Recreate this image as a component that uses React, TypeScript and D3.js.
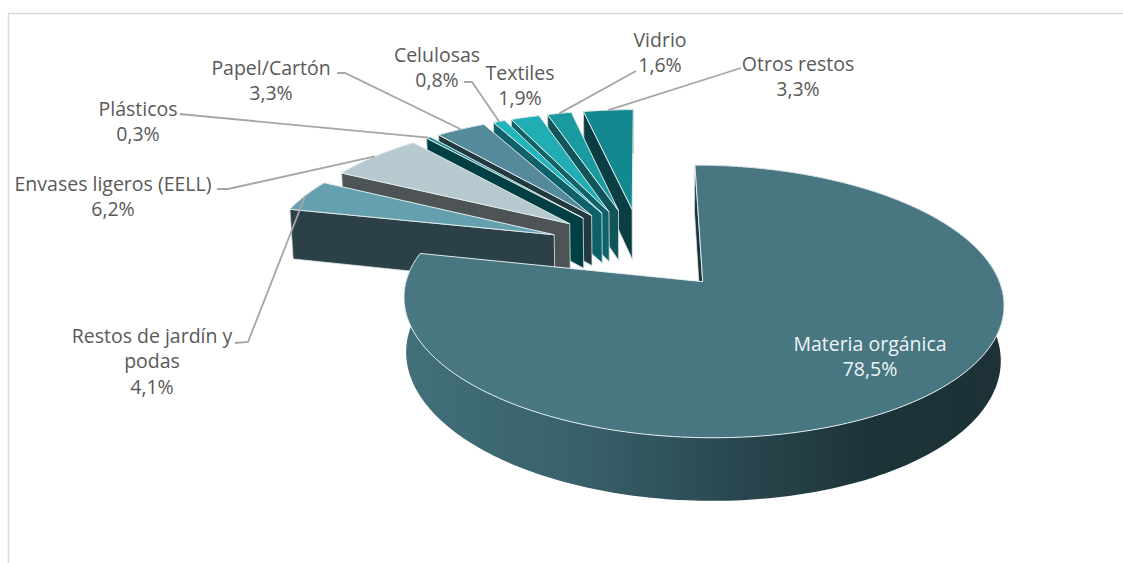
import React from "react";
import * as d3 from "d3";

const categories = ["Materia orgánica", "Restos de jardín y podas", "Envases ligeros (EELL)", "Plásticos", "Papel/Cartón", "Celulosas", "Textiles", "Vidrio", "Otros restos"];
const shares = [78.5, 4.1, 6.2, 0.3, 3.3, 0.8, 1.9, 1.6, 3.3];
const topColors = ["#487782", "#64A0AE", "#B6C9CF", "#1F8D92", "#548A99", "#1FB5BA", "#20ADB3", "#1A9AA1", "#138891"];
const wallColors = ["#1C3338", "#2C4048", "#4E5356", "#003F43", "#22393F", "#0E6168", "#0E6268", "#0F5559", "#0B3E43"];
const labelLines = [["Materia orgánica", "78,5%"], ["Restos de jardín y", "podas", "4,1%"], ["Envases ligeros (EELL)", "6,2%"], ["Plásticos", "0,3%"], ["Papel/Cartón", "3,3%"], ["Celulosas", "0,8%"], ["Textiles", "1,9%"], ["Vidrio", "1,6%"], ["Otros restos", "3,3%"]];
const labelCenters = [[870, 350.5], [152, 342.5], [113, 190.5], [138, 115.5], [271, 74.5], [437, 61.5], [520, 79.5], [660, 46.5], [798, 70.5]];
const leaderStarts: (number[][] | null)[] = [null, [[235, 343], [248, 342]], [[217, 189], [228, 189]], [[180, 114], [190, 115]], [[337, 73], [345, 73]], [[464, 82], [472, 82]], null, [[636, 71]], [[741, 68]]];

const X0 = 641.5, Y0 = 248.5, W = 286, H = 124, P = 0.14, DEPTH = 52, SHRINK = 0.009, EXPLODE = 0.33;

function project(u: number, v: number, z = 0): [number, number] {
  const d = 1 - P * v;
  const x = X0 + (W * u) / d;
  return [X0 + (x - X0) * (1 - SHRINK * z), Y0 + (H * v + DEPTH * z) / d];
}

const pieData = d3.pie<number>().sort(null).startAngle(0).endAngle(2 * Math.PI)(shares);
const outline = d3.line().curve(d3.curveLinearClosed);

export default function App() {
  const slices = pieData.map((s, i) => {
    const mid = (s.startAngle + s.endAngle) / 2;
    const ou = EXPLODE * Math.sin(mid), ov = -EXPLODE * Math.cos(mid);
    const at = (a: number, z = 0) => project(ou + Math.sin(a), ov - Math.cos(a), z);
    const n = Math.max(3, Math.ceil((s.endAngle - s.startAngle) / 0.02));
    const angles = d3.range(n + 1).map((k) => s.startAngle + ((s.endAngle - s.startAngle) * k) / n);
    const apex = project(ou, ov), apexB = project(ou, ov, 1);
    return {
      i,
      top: outline([apex, ...angles.map((a) => at(a))])!,
      arcWall: outline([...angles.map((a) => at(a)), ...angles.slice().reverse().map((a) => at(a, 1))])!,
      edgeWall: outline([at(s.startAngle), apex, apexB, at(s.startAngle, 1)])!,
      tip: at(mid),
    };
  });
  const order = slices.slice().reverse();
  const leader = d3.line();
  return (
    <svg width={1123} height={563} style={{ position: "absolute", left: 0, top: 0, background: "#fff" }} fontFamily="'Open Sans', sans-serif">
      <defs>
        <linearGradient id="mainWall" gradientUnits="userSpaceOnUse" x1={404} x2={1005} y1={0} y2={0}>
          <stop offset="0" stopColor="#41707B" />
          <stop offset="0.3" stopColor="#38606A" />
          <stop offset="0.55" stopColor="#2A474F" />
          <stop offset="0.78" stopColor="#1C3338" />
          <stop offset="1" stopColor="#1D3136" />
        </linearGradient>
      </defs>
      <path d="M8.5,563V13.5H1123" fill="none" stroke="#D9D9D9" strokeWidth={1.5} />
      {order.map((s) => (
        <g key={s.i}>
          <path d={s.arcWall} fill={s.i === 0 ? "url(#mainWall)" : wallColors[s.i]} />
          <path d={s.edgeWall} fill={wallColors[s.i]} stroke="#DDE8EA" strokeWidth={0.8} strokeLinejoin="round" />
          <path d={s.top} fill={topColors[s.i]} stroke="#E2ECEE" strokeWidth={1} strokeLinejoin="round" />
        </g>
      ))}
      {slices.map((s) => {
        const starts = leaderStarts[s.i];
        return starts ? <path key={s.i} d={leader([...(starts as [number, number][]), s.tip])!} fill="none" stroke="#A6A6A6" strokeWidth={1.8} /> : null;
      })}
      {labelLines.map((lines, i) => (
        <text key={i} textAnchor="middle" fontSize={19.5} fill={i === 0 ? "#EEF4F5" : "#595959"}>
          {lines.map((t, j) => (
            <tspan key={j} x={labelCenters[i][0]} y={labelCenters[i][1] + j * 25.5}>{t}</tspan>
          ))}
        </text>
      ))}
    </svg>
  );
}
